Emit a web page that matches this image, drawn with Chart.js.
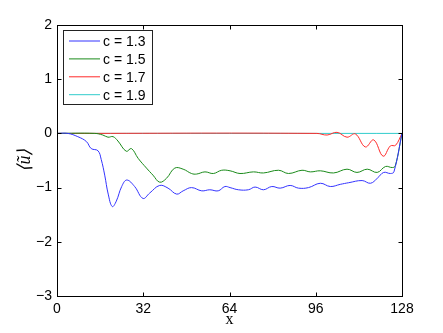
<!DOCTYPE html>
<html>
<head>
<meta charset="utf-8">
<script src="https://cdn.jsdelivr.net/npm/chart.js@4.4.0/dist/chart.umd.min.js"></script>
<style>
  html, body { margin: 0; padding: 0; background: #fff; }
  #wrap { width: 443px; height: 333px; }
</style>
</head>
<body>
<div id="wrap"><canvas id="chart" width="443" height="333"></canvas></div>
<script>
// mean profile <u~> along x for several c values
const labels = ['c = 1.3', 'c = 1.5', 'c = 1.7', 'c = 1.9'];
const colors = ['#3333ff', '#1a8a1a', '#ff2a2a', '#30cccc'];

const blueX = [0, 4, 7.7, 10.9, 12.7, 15.2, 16.4, 17.7, 19, 20.5, 22, 24, 25.9, 28.8, 31.9, 34.4, 38.1, 41.2, 44.4, 46.8, 49.9, 53.7, 56.7, 59.8, 62.3, 64.2, 67.3, 71, 73.5, 76.6, 79.7, 82.8, 86.5, 89.6, 93.3, 97.7, 101.4, 105.1, 108.2, 113.2, 116.3, 118.8, 121.2, 123.7, 125, 128];
const blueY = [0, 0, -0.06, -0.15, -0.28, -0.32, -0.48, -0.77, -1.12, -1.35, -1.25, -0.98, -0.86, -0.98, -1.2, -1.1, -0.96, -1.01, -1.12, -1.06, -1.0, -1.06, -1.04, -1.06, -0.98, -1.0, -1.04, -1.04, -0.99, -1.04, -0.98, -1.01, -0.96, -1.01, -1.0, -0.92, -0.98, -0.94, -0.91, -0.87, -0.92, -0.83, -0.72, -0.74, -0.71, 0];

const greenX = [0, 14, 17, 18.9, 20.8, 22.6, 25.7, 27.6, 30.1, 33.2, 35.6, 38.1, 40.6, 43.7, 46.8, 49.9, 51.8, 54.9, 58, 61.1, 64.2, 67.9, 72.9, 76.6, 82.2, 85.9, 90.9, 94, 97.7, 102.6, 107.6, 111.3, 115.1, 118.8, 121.9, 124.4, 125.5, 128];
const greenY = [0, 0, -0.03, -0.07, -0.06, -0.14, -0.33, -0.28, -0.46, -0.64, -0.77, -0.9, -0.83, -0.64, -0.66, -0.74, -0.75, -0.71, -0.74, -0.68, -0.69, -0.74, -0.71, -0.73, -0.68, -0.74, -0.68, -0.71, -0.69, -0.73, -0.66, -0.72, -0.66, -0.72, -0.61, -0.63, -0.6, 0];

const redX = [0, 96.4, 100.2, 103.9, 107.6, 110.7, 114.4, 117.5, 121, 123.7, 125.6, 128];
const redY = [0, 0, -0.03, 0.02, -0.07, -0.01, -0.25, -0.12, -0.42, -0.23, -0.22, 0];

const cyanX = [0, 128];
const cyanY = [0, 0];

const xTicks = [0, 32, 64, 96, 128];
const yTicks = [-3, -2, -1, 0, 1, 2];

const pts = (xs, ys) => xs.map((v, i) => ({ x: v, y: ys[i] }));
const series = [pts(blueX, blueY), pts(greenX, greenY), pts(redX, redY), pts(cyanX, cyanY)];

function fmt(v) { return v < 0 ? '\u2212' + (-v) : String(v); }

// matlab style box, inward ticks, legend and axis labels
const framePlugin = {
  id: 'frame',
  afterDatasetsDraw(chart) {
    const { ctx, chartArea: a, scales: { x, y } } = chart;
    const L = Math.round(a.left) + 0.5, R = Math.round(a.right) + 0.5;
    const T = Math.round(a.top) + 0.5, B = Math.round(a.bottom) + 0.5;
    ctx.save();
    ctx.strokeStyle = '#000';
    ctx.lineWidth = 1;
    ctx.strokeRect(L, T, R - L, B - T);
    ctx.beginPath();
    xTicks.forEach(v => {
      const px = Math.round(x.getPixelForValue(v)) + 0.5;
      ctx.moveTo(px, B); ctx.lineTo(px, B - 4);
      ctx.moveTo(px, T); ctx.lineTo(px, T + 4);
    });
    yTicks.forEach(v => {
      const py = Math.round(y.getPixelForValue(v)) + 0.5;
      ctx.moveTo(L, py); ctx.lineTo(L + 4, py);
      ctx.moveTo(R, py); ctx.lineTo(R - 4, py);
    });
    ctx.stroke();

    // legend box
    const lx = 63.5, ly = 30.5, lw = 89, lh = 74;
    ctx.fillStyle = '#fff';
    ctx.fillRect(lx, ly, lw, lh);
    ctx.strokeStyle = '#222';
    ctx.strokeRect(lx, ly, lw, lh);
    ctx.font = '14px "Liberation Sans", Arial, sans-serif';
    ctx.textBaseline = 'middle';
    ctx.textAlign = 'left';
    labels.forEach((t, i) => {
      const ry = 41 + i * 17.9;
      ctx.strokeStyle = colors[i];
      ctx.beginPath(); ctx.moveTo(69, ry); ctx.lineTo(100, ry); ctx.stroke();
      ctx.fillStyle = '#000';
      ctx.fillText(t, 103, ry + 1);
    });

    // axis labels
    ctx.fillStyle = '#000';
    ctx.textAlign = 'center';
    ctx.font = '16px "Liberation Serif", "Times New Roman", serif';
    ctx.fillText('x', (a.left + a.right) / 2, 320);
    ctx.save();
    ctx.translate(25, 160);
    ctx.rotate(-Math.PI / 2);
    ctx.font = 'italic 18px "Liberation Serif", "Times New Roman", serif';
    ctx.fillText('\u27E8u\u0303\u27E9', 0, 0);
    ctx.restore();
    ctx.restore();
  }
};

new Chart(document.getElementById('chart'), {
  type: 'line',
  data: {
    datasets: series.map((d, i) => ({
      label: labels[i],
      data: d,
      borderColor: colors[i],
      borderWidth: 1,
      pointRadius: 0,
      fill: false,
      tension: 0.4,
      order: i + 1
    }))
  },
  options: {
    responsive: false,
    animation: false,
    events: [],
    layout: { padding: { top: 25, right: 41, left: 0, bottom: 0 } },
    plugins: { legend: { display: false }, tooltip: { enabled: false } },
    scales: {
      x: {
        type: 'linear', min: 0, max: 128,
        grid: { display: false, drawTicks: false },
        border: { display: false },
        afterBuildTicks: s => { s.ticks = xTicks.map(v => ({ value: v })); },
        afterFit: s => { s.height = 37; },
        ticks: { color: '#000', padding: 5, maxRotation: 0, autoSkip: false,
                 font: { family: '"Liberation Sans", Arial, sans-serif', size: 14 }, callback: v => fmt(v) }
      },
      y: {
        type: 'linear', min: -3, max: 2,
        grid: { display: false, drawTicks: false },
        border: { display: false },
        afterBuildTicks: s => { s.ticks = yTicks.map(v => ({ value: v })); },
        afterFit: s => { s.width = 57; },
        ticks: { color: '#000', padding: 5, autoSkip: false,
                 font: { family: '"Liberation Sans", Arial, sans-serif', size: 14 }, callback: v => fmt(v) }
      }
    }
  },
  plugins: [framePlugin]
});
</script>
</body>
</html>
